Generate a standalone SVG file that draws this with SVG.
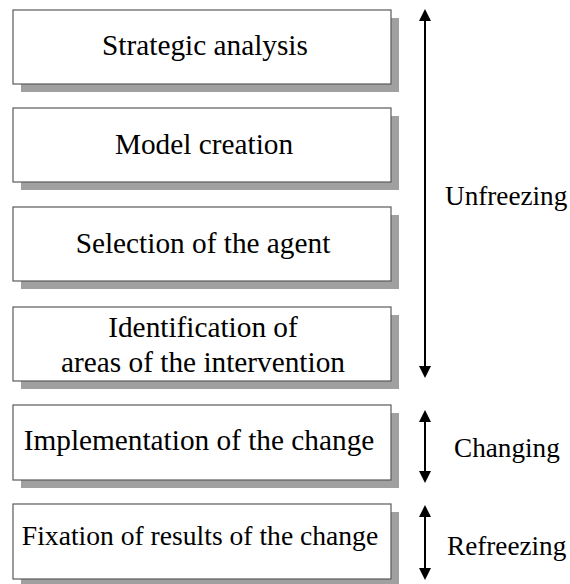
<svg xmlns="http://www.w3.org/2000/svg" width="570" height="584" viewBox="0 0 570 584">
  <style>
    .shadow { fill: #a0a0a0; }
    .box { fill: #ffffff; stroke: #5a5a5a; stroke-width: 1.2; }
    .label { font-size: 29.3px; fill: #000; text-anchor: middle; }
    .phase { font-size: 27.2px; fill: #000; }
    .arrow { stroke: #000; stroke-width: 2; fill: none; marker-start: url(#head); marker-end: url(#head); }
  </style>
  <defs>
    <marker id="head" viewBox="0 0 12 12" refX="8" refY="6" markerWidth="12" markerHeight="12" orient="auto-start-reverse" markerUnits="userSpaceOnUse">
      <path d="M0,0 L12,6 L0,12 Z" fill="#000"/>
    </marker>
  </defs>

  <!-- Times-metric serif faces (Liberation Serif and its aliases) -->
  <g id="strategic-analysis">
    <rect class="shadow" x="21" y="18" width="378" height="74"/>
    <rect class="box" x="13" y="10" width="378" height="74"/>
    <text class="label" x="205" y="55" style="font-family: 'Times New Roman'">Strategic analysis</text>
  </g>
  <g id="model-creation">
    <rect class="shadow" x="21" y="116" width="378" height="74"/>
    <rect class="box" x="13" y="108" width="378" height="74"/>
    <text class="label" x="204" y="154" style="font-family: Liberation Serif">Model creation</text>
  </g>
  <g id="agent-selection">
    <rect class="shadow" x="21" y="215" width="378" height="74"/>
    <rect class="box" x="13" y="207" width="378" height="74"/>
    <text class="label" x="203" y="253" style="font-family: Times">Selection of the agent</text>
  </g>
  <g id="intervention-areas">
    <rect class="shadow" x="21" y="315" width="378" height="74"/>
    <rect class="box" x="13" y="307" width="378" height="74"/>
    <text class="label" x="203" y="337" style="font-family: 'Times New Roman'">Identification of</text>
    <text class="label" x="203" y="372" style="font-family: Times">areas of the intervention</text>
  </g>
  <g id="implementation">
    <rect class="shadow" x="21" y="413" width="378" height="75"/>
    <rect class="box" x="13" y="405" width="378" height="75"/>
    <text class="label" x="199" y="450" style="font-family: serif">Implementation of the change</text>
  </g>
  <g id="fixation">
    <rect class="shadow" x="21" y="512" width="378" height="75"/>
    <rect class="box" x="13" y="504" width="378" height="75"/>
    <text class="label" x="200" y="545" style="font-family: serif; font-size: 27.6px">Fixation of results of the change</text>
  </g>

  <g id="connectors">
    <line class="arrow" x1="425" y1="13" x2="425" y2="374"/>
    <line class="arrow" x1="425" y1="414" x2="425" y2="479"/>
    <line class="arrow" x1="425" y1="509" x2="425" y2="576"/>
  </g>

  <g id="phases">
    <text class="phase" x="445" y="205" style="font-family: Liberation Serif">Unfreezing</text>
    <text class="phase" x="454" y="457" style="font-family: 'Times New Roman'">Changing</text>
    <text class="phase" x="447" y="555" style="font-family: Times">Refreezing</text>
  </g>
</svg>
